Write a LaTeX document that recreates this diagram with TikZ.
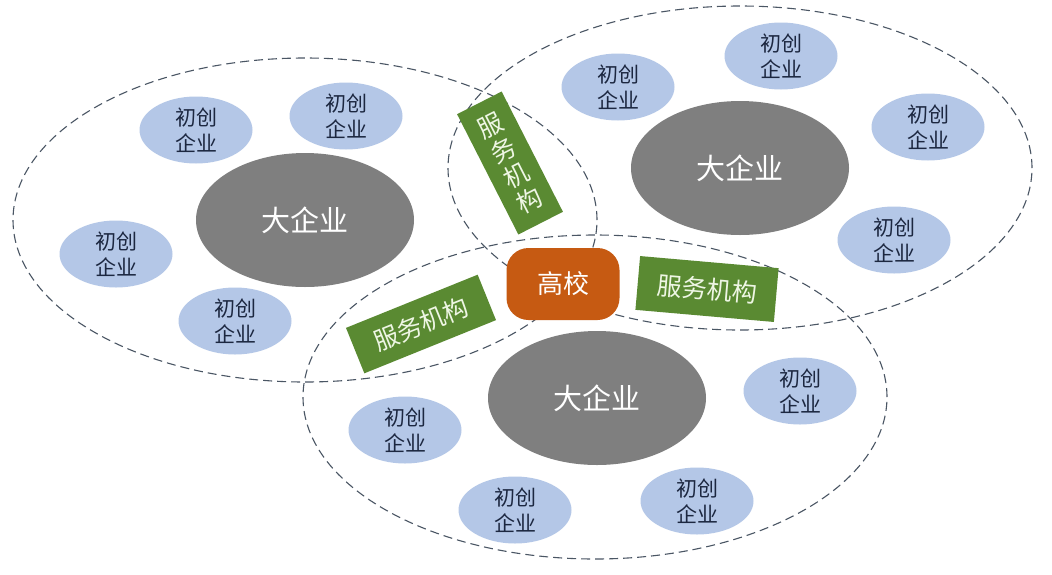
\documentclass[tikz,border=0pt]{standalone}
\usepackage{fontspec}
\setmainfont{Noto Sans CJK SC}
\usetikzlibrary{shapes.geometric}
\definecolor{dashgray}{HTML}{4A5664}
\definecolor{biggray}{HTML}{7F7F7F}
\definecolor{startblue}{HTML}{B4C7E7}
\definecolor{startink}{HTML}{1C2740}
\definecolor{servgreen}{HTML}{5A8A32}
\definecolor{servtext}{HTML}{EEF6E4}
\definecolor{unicolor}{HTML}{C65A12}
\begin{document}
\begin{tikzpicture}[x=1pt,y=-1pt,
    cluster/.style={ellipse,draw=dashgray,dash pattern=on 9pt off 5pt,line width=1.1pt,
      minimum width=584pt,minimum height=324pt,inner sep=0pt},
    big/.style={ellipse,fill=biggray,text=white,minimum width=218pt,minimum height=134pt,
      inner sep=0pt,font=\fontsize{29}{32}\selectfont},
    startup/.style={ellipse,fill=startblue,text=startink,minimum width=113pt,minimum height=67pt,
      inner sep=0pt,align=center,font=\fontsize{21}{26}\selectfont},
    service/.style={rectangle,fill=servgreen,text=servtext,inner sep=0pt,align=center,
      font=\fontsize{25}{28}\selectfont},
    univ/.style={rectangle,rounded corners=22pt,fill=unicolor,text=white,minimum width=113pt,
      minimum height=72pt,font=\fontsize{26}{28}\selectfont}]
  \useasboundingbox[fill=white] (0,0) rectangle (1052,574);
  \draw
    (305,220) node[cluster] (c1){}
    (740,168) node[cluster] (c2){}
    (595,397) node[cluster] (c3){};
  \draw
    (305,220) node[big] (b1){大企业}
    (740,168) node[big] (b2){大企业}
    (597,398) node[big] (b3){大企业};
  \draw
    (196,130) node[startup] (s1){初创\\企业}
    (346,116) node[startup] (s2){初创\\企业}
    (116,254) node[startup] (s3){初创\\企业}
    (235,321) node[startup] (s4){初创\\企业}
    (618,87) node[startup] (s5){初创\\企业}
    (781,56) node[startup] (s6){初创\\企业}
    (928,127) node[startup] (s7){初创\\企业}
    (894,240) node[startup] (s8){初创\\企业}
    (405,430) node[startup] (s9){初创\\企业}
    (515,510) node[startup] (s10){初创\\企业}
    (697,501) node[startup] (s11){初创\\企业}
    (800,391) node[startup] (s12){初创\\企业};
  \draw
    (510,163) node[service,rotate=27,minimum width=50pt,minimum height=135pt] (v1){服\\务\\机\\构}
    (421,324) node[service,rotate=22,minimum width=142pt,minimum height=49pt] (v2){服务机构}
    (707,289) node[service,rotate=-5,minimum width=139pt,minimum height=54pt] (v3){服务机构};
  \draw (563,284) node[univ] (u){高校};
\end{tikzpicture}
\end{document}
